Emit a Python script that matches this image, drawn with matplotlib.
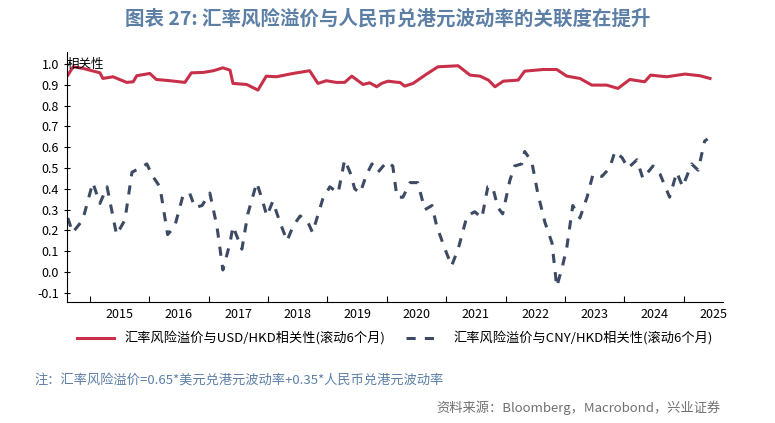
import numpy as np
import matplotlib; matplotlib.use("Agg")
import matplotlib.pyplot as plt

plt.rcParams["font.family"] = ["Noto Sans CJK SC", "DejaVu Sans"]

# red: corr with USD/HKD (decimal year, value)
usd_t = [2014.63, 2014.72, 2014.89, 2015.17, 2015.22, 2015.39, 2015.62, 2015.73, 2015.79, 2016.01,
         2016.12, 2016.35, 2016.60, 2016.71, 2016.91, 2017.08, 2017.24, 2017.36, 2017.41, 2017.64,
         2017.83, 2017.97, 2018.14, 2018.42, 2018.70, 2018.84, 2018.98, 2019.15, 2019.29, 2019.41,
         2019.60, 2019.71, 2019.83, 2019.91, 2020.02, 2020.19, 2020.22, 2020.30, 2020.44, 2020.67,
         2020.86, 2021.20, 2021.40, 2021.57, 2021.71, 2021.82, 2021.96, 2022.21, 2022.32, 2022.63,
         2022.86, 2023.03, 2023.25, 2023.45, 2023.70, 2023.89, 2024.09, 2024.34, 2024.44, 2024.71,
         2025.02, 2025.27, 2025.44]
usd_v = [0.947, 0.987, 0.979, 0.958, 0.931, 0.939, 0.912, 0.915, 0.944, 0.955,
         0.926, 0.920, 0.912, 0.958, 0.960, 0.968, 0.982, 0.971, 0.907, 0.902,
         0.875, 0.942, 0.939, 0.955, 0.968, 0.907, 0.920, 0.912, 0.912, 0.942,
         0.902, 0.910, 0.891, 0.907, 0.918, 0.912, 0.912, 0.894, 0.907, 0.952,
         0.987, 0.992, 0.947, 0.942, 0.923, 0.891, 0.918, 0.923, 0.966, 0.974,
         0.974, 0.942, 0.931, 0.899, 0.899, 0.883, 0.926, 0.915, 0.947, 0.939,
         0.952, 0.944, 0.931]

# blue: corr with CNY/HKD
cny_t = [2014.63, 2014.71, 2014.88, 2015.05, 2015.17, 2015.29, 2015.45, 2015.59, 2015.71, 2015.84,
         2015.96, 2016.06, 2016.18, 2016.31, 2016.43, 2016.57, 2016.68, 2016.77, 2016.89, 2017.02,
         2017.14, 2017.24, 2017.36, 2017.41, 2017.56, 2017.66, 2017.81, 2017.90, 2017.98, 2018.08,
         2018.20, 2018.32, 2018.42, 2018.54, 2018.67, 2018.75, 2018.92, 2019.04, 2019.18, 2019.29,
         2019.38, 2019.46, 2019.55, 2019.66, 2019.75, 2019.85, 2020.00, 2020.10, 2020.17, 2020.27,
         2020.39, 2020.52, 2020.64, 2020.76, 2020.84, 2020.98, 2021.09, 2021.20, 2021.35, 2021.48,
         2021.60, 2021.70, 2021.78, 2021.87, 2021.95, 2022.07, 2022.15, 2022.27, 2022.32, 2022.44,
         2022.54, 2022.66, 2022.78, 2022.86, 2022.95, 2023.03, 2023.13, 2023.25, 2023.37, 2023.47,
         2023.62, 2023.75, 2023.84, 2023.96, 2024.06, 2024.21, 2024.31, 2024.48, 2024.60, 2024.76,
         2024.88, 2024.98, 2025.13, 2025.24, 2025.35, 2025.40]
cny_v = [0.26, 0.19, 0.25, 0.43, 0.33, 0.41, 0.18, 0.25, 0.48, 0.50,
         0.52, 0.46, 0.41, 0.18, 0.22, 0.37, 0.38, 0.31, 0.32, 0.38,
         0.22, 0.01, 0.14, 0.22, 0.11, 0.28, 0.43, 0.35, 0.27, 0.34,
         0.24, 0.15, 0.22, 0.27, 0.24, 0.19, 0.35, 0.41, 0.38, 0.54,
         0.48, 0.40, 0.38, 0.47, 0.52, 0.48, 0.53, 0.51, 0.36, 0.36,
         0.43, 0.43, 0.30, 0.32, 0.22, 0.11, 0.03, 0.11, 0.27, 0.29,
         0.26, 0.41, 0.41, 0.31, 0.28, 0.44, 0.51, 0.52, 0.58, 0.53,
         0.38, 0.24, 0.14, -0.07, 0.02, 0.12, 0.32, 0.26, 0.36, 0.47,
         0.46, 0.50, 0.58, 0.55, 0.50, 0.54, 0.45, 0.51, 0.47, 0.36,
         0.48, 0.41, 0.52, 0.49, 0.63, 0.64]

years = list(range(2015, 2026))
yticks = [-0.1, 0.0, 0.1, 0.2, 0.3, 0.4, 0.5, 0.6, 0.7, 0.8, 0.9, 1.0]

fig = plt.figure(figsize=(7.75, 4.23), dpi=100)
ax = fig.add_axes([0.086, 0.286, 0.847, 0.591])
ax.plot(usd_t, usd_v, color="#c8304a", lw=2.2, label="汇率风险溢价与USD/HKD相关性(滚动6个月)")
ax.plot(cny_t, cny_v, color="#3d4a63", lw=2.2, ls=(0, (3, 3)), label="汇率风险溢价与CNY/HKD相关性(滚动6个月)")

ax.set_xlim(2014.61, 2025.66); ax.set_ylim(-0.144, 1.058)
ax.set_xticks(years)
ax.set_xticklabels([])
ax.set_xticks([y + 0.5 for y in years], minor=True)
ax.set_xticklabels([str(y) for y in years], minor=True, fontsize=9)
ax.tick_params(axis="x", which="minor", length=0, pad=4)
ax.tick_params(axis="x", which="major", length=4, direction="in")
ax.set_yticks(yticks)
ax.set_yticklabels([f"{v:.1f}" for v in yticks], fontsize=9)
ax.tick_params(axis="y", length=4, direction="inout")
for s in ["top", "right"]:
    ax.spines[s].set_visible(False)
ax.text(0.0, 1.0, "相关性", transform=ax.get_yaxis_transform(), fontsize=9, va="center", ha="left")

ax.legend(loc="upper center", bbox_to_anchor=(0.5, -0.07), ncol=2, frameon=False, fontsize=9.5,
          handlelength=2.8, columnspacing=1.5)

fig.text(0.5, 0.955, "图表 27: 汇率风险溢价与人民币兑港元波动率的关联度在提升", ha="center", va="center",
         fontsize=14, fontweight="bold", color="#5c7fa6")
fig.text(0.045, 0.1, "注：汇率风险溢价=0.65*美元兑港元波动率+0.35*人民币兑港元波动率", fontsize=9.5, color="#5c7fa6", va="center")
fig.text(0.93, 0.035, "资料来源：Bloomberg，Macrobond，兴业证券", fontsize=9.5, color="#707070", ha="right", va="center")
fig.savefig("out.png", dpi=100)
